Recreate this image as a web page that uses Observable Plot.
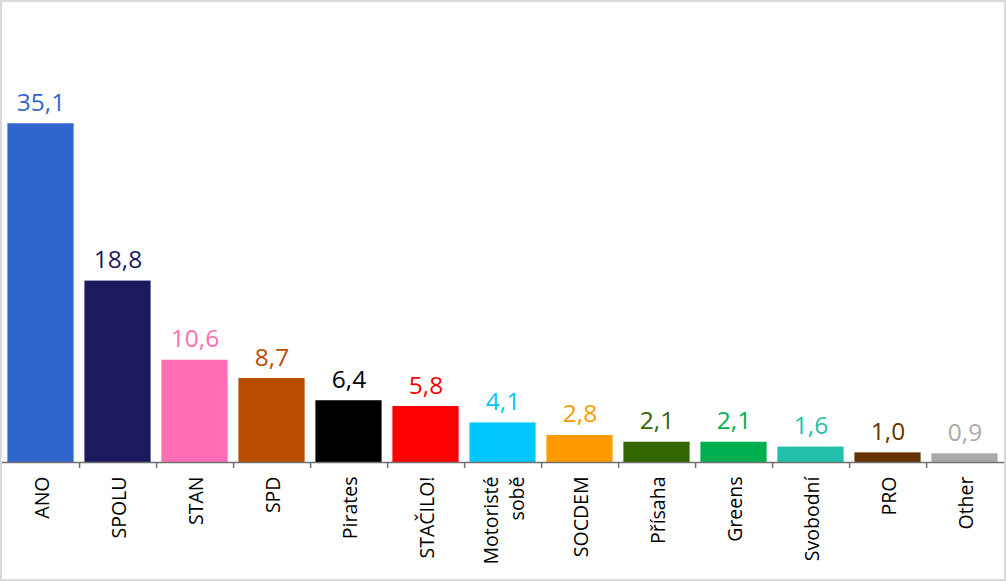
<!DOCTYPE html>
<html>
<head>
<meta charset="utf-8">
<script src="https://cdn.jsdelivr.net/npm/d3@7"></script>
<script src="https://cdn.jsdelivr.net/npm/@observablehq/plot@0.6"></script>
<style>
  html, body { margin: 0; padding: 0; background: #fff; }
  #chart { width: 1002px; height: 577px; border: 2px solid #d9d9d9; overflow: hidden; }
  #chart svg { display: block; }
</style>
</head>
<body>
<div id="chart"></div>
<script>
const parties = ["ANO", "SPOLU", "STAN", "SPD", "Pirates", "STAČILO!", "Motoristé\nsobě", "SOCDEM", "Přísaha", "Greens", "Svobodní", "PRO", "Other"];
const values = [35.1, 18.8, 10.6, 8.7, 6.4, 5.8, 4.1, 2.8, 2.1, 2.1, 1.6, 1.0, 0.9];
const colors = ["#3066cc", "#1c1a5c", "#ff6eb4", "#b94c00", "#000000", "#ff0000", "#00c8ff", "#ff9a00", "#336600", "#00b050", "#22bfaa", "#663300", "#aaaaaa"];

const data = parties.map((p, i) => ({party: p, value: values[i], color: colors[i], label: values[i].toFixed(1).replace(".", ",")}));

const W = 1002, H = 577;
const mL = -1, mR = -0.5;
const step = (W - mL - mR) / parties.length;

const chart = Plot.plot({
  width: W,
  height: H,
  marginLeft: mL,
  marginRight: mR,
  marginTop: 74,
  marginBottom: 117,
  style: {fontFamily: "'Open Sans', sans-serif", fontSize: "19.5px", background: "#fff", overflow: "visible"},
  x: {domain: parties, padding: 0, label: null, axis: null},
  y: {domain: [0, 40], axis: null},
  marks: [
    Plot.barY(data, {x: "party", y: "value", fill: "color", insetLeft: 5.4, insetRight: 5.4}),
    Plot.text(data, {x: "party", y: "value", text: "label", fill: "color", dy: -13, lineAnchor: "bottom", fontSize: 24.5}),
    Plot.ruleY([0], {stroke: "#707070", strokeWidth: 1.5}),
    Plot.axisX({ticks: parties.slice(0, -1), tickSize: 6, text: null, dx: step / 2, stroke: "#707070", strokeWidth: 1.5}),
    Plot.text(data, {x: "party", text: "party", frameAnchor: "bottom", rotate: -90, textAnchor: "end", lineAnchor: "middle", dy: 14, fontSize: 19.5, fill: "#000", lineHeight: 1.3})
  ]
});
document.getElementById("chart").appendChild(chart);
</script>
</body>
</html>
